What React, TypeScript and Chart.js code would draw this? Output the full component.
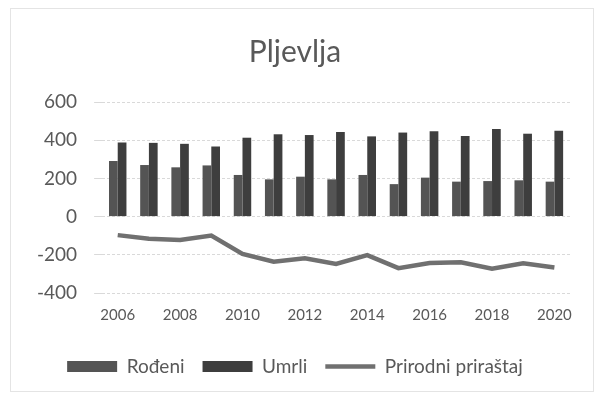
import React, { useEffect, useRef } from "react";
import { Chart, registerables } from "chart.js";

Chart.register(...registerables);

const years = ["2006", "2007", "2008", "2009", "2010", "2011", "2012", "2013", "2014", "2015", "2016", "2017", "2018", "2019", "2020"];
const rodjeni = [291, 270, 258, 268, 218, 195, 209, 195, 218, 170, 204, 183, 186, 190, 183];
const umrli = [388, 386, 381, 367, 413, 431, 427, 443, 420, 440, 447, 422, 459, 434, 449];
const prirastaj = [-97, -116, -123, -99, -195, -236, -218, -248, -202, -270, -243, -239, -273, -244, -266];
const yTicks = [-400, -200, 0, 200, 400, 600];

const FONT = "Lato, 'Open Sans', sans-serif";

export default function App() {
  const ref = useRef<HTMLCanvasElement | null>(null);

  useEffect(() => {
    document.body.style.margin = "0";
    const ctx = ref.current;
    if (!ctx) return;
    const chart = new Chart(ctx, {
      type: "bar",
      data: {
        labels: years,
        datasets: [
          {
            type: "bar",
            label: "Rođeni",
            data: rodjeni,
            backgroundColor: "#545454",
            pointStyle: "rect",
            categoryPercentage: 0.56,
            barPercentage: 1.0,
          },
          {
            type: "bar",
            label: "Umrli",
            data: umrli,
            backgroundColor: "#3e3e3e",
            pointStyle: "rect",
            categoryPercentage: 0.56,
            barPercentage: 1.0,
          },
          {
            type: "line",
            label: "Prirodni priraštaj",
            data: prirastaj,
            borderColor: "#707070",
            backgroundColor: "#707070",
            borderWidth: 4.5,
            pointRadius: 0,
            pointStyle: "line",
            tension: 0,
          } as any,
        ],
      },
      options: {
        animation: false,
        responsive: false,
        maintainAspectRatio: false,
        layout: { padding: { left: 20, right: 34, top: 16, bottom: 14 } },
        plugins: {
          title: {
            display: true,
            text: "Pljevlja",
            color: "#595959",
            font: { family: FONT, size: 30, weight: "normal" },
            padding: { top: 18, bottom: 32 },
          },
          legend: {
            position: "bottom",
            labels: {
              usePointStyle: true,
              pointStyleWidth: 50,
              boxHeight: 11,
              color: "#595959",
              font: { family: FONT, size: 19 },
              padding: 18,
              sort: (a: any, b: any) => a.datasetIndex - b.datasetIndex,
            },
          },
          tooltip: { enabled: false },
        },
        scales: {
          x: {
            grid: { display: false },
            border: { display: false },
            afterFit: (axis: any) => {
              axis.height += 10;
            },
            ticks: {
              color: "#595959",
              font: { family: FONT, size: 15 },
              maxRotation: 0,
              autoSkip: false,
              padding: 5,
              callback: function (_v: any, i: number) {
                return i % 2 === 0 ? years[i] : "";
              },
            },
          },
          y: {
            min: -400,
            max: 600,
            afterBuildTicks: (axis: any) => {
              axis.ticks = yTicks.map((v) => ({ value: v }));
            },
            grid: { color: "#d9d9d9", lineWidth: 1 },
            border: { display: false, dash: [3, 2] },
            ticks: {
              color: "#595959",
              font: { family: FONT, size: 19 },
              padding: 17,
            },
          },
        },
      },
    });
    return () => chart.destroy();
  }, []);

  return (
    <div style={{ position: "relative", width: 604, height: 400, background: "#fff" }}>
      <div
        style={{
          position: "absolute",
          left: 10,
          top: 8,
          width: 584,
          height: 384,
          border: "1px solid #e4e4e4",
          boxSizing: "border-box",
        }}
      />
      <canvas ref={ref} width={604} height={400} style={{ position: "absolute", left: 0, top: 0 }} />
    </div>
  );
}
